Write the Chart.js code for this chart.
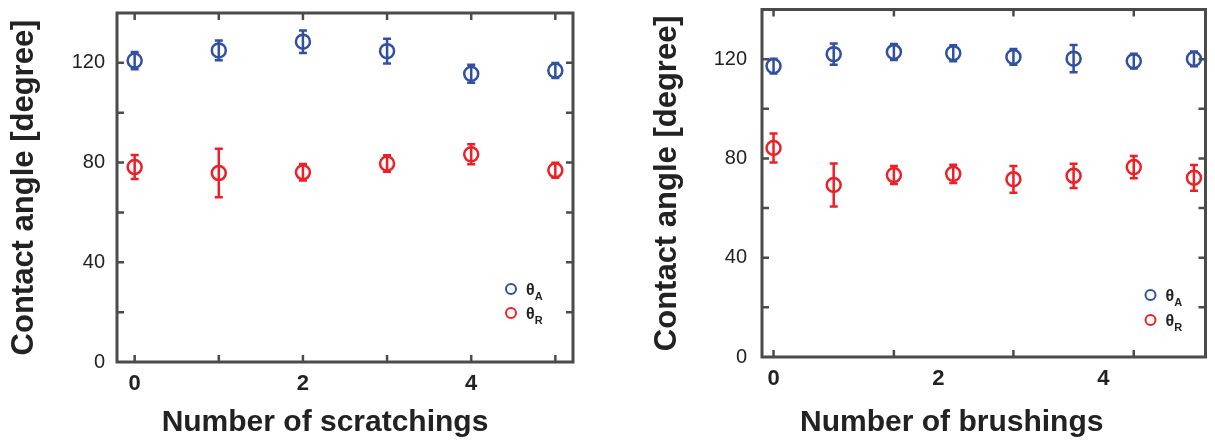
<!DOCTYPE html>
<html>
<head>
<meta charset="utf-8">
<script src="https://cdn.jsdelivr.net/npm/chart.js@4.4.1/dist/chart.umd.min.js"></script>
<style>
  html, body { margin: 0; padding: 0; background: #fff; }
  body { width: 1215px; height: 446px; position: relative; overflow: hidden; }
  .panel { position: absolute; top: 0; width: 600px; height: 446px; }
  #left { left: 0; }
  #right { left: 615px; }
</style>
</head>
<body>
<div class="panel" id="left"><canvas id="chart-scratch" width="600" height="446"></canvas></div>
<div class="panel" id="right"><canvas id="chart-brush" width="600" height="446"></canvas></div>
<script>
// scratching test
const scratchX = [0, 1, 2, 3, 4, 5];
const scratchAdv = [120.9, 125.0, 128.5, 124.7, 115.6, 116.9];
const scratchAdvErr = [3.5, 4.0, 4.5, 5.0, 3.6, 3.0];
const scratchRec = [78.2, 75.8, 76.1, 79.6, 83.3, 76.9];
const scratchRecErr = [4.8, 9.7, 3.3, 3.3, 4.0, 3.0];

// brushing test
const brushX = [0, 0.73, 1.46, 2.18, 2.91, 3.64, 4.37, 5.10];
const brushAdv = [117.2, 122.0, 122.9, 122.4, 120.9, 120.2, 119.2, 120.1];
const brushAdvErr = [3.0, 4.3, 3.2, 3.2, 3.2, 5.5, 3.0, 3.0];
const brushRec = [84.2, 69.3, 73.3, 73.8, 71.6, 73.0, 76.5, 72.2];
const brushRecErr = [5.8, 8.7, 3.6, 3.7, 5.4, 4.9, 4.5, 5.2];

// axes
const xTickLabels = [0, 2, 4];
const yTickLabels = [0, 40, 80, 120];
const yTickMarks = [20, 40, 60, 80, 100, 120];
const scratchTickMarks = scratchX;
const brushTickMarks = brushX.filter((v, i) => i % 2 === 0);

const BLUE = "#3050a2";
const RED = "#ee1f26";
const AXIS = "#4b4b4b";
const TEXT = "#222222";
const FONT = "'Liberation Sans', Arial, sans-serif";

Chart.defaults.font.family = FONT;
Chart.defaults.color = TEXT;

const errorBars = {
  id: "errorBars",
  beforeDatasetsDraw(chart) {
    const { ctx, scales: { x, y } } = chart;
    chart.data.datasets.forEach((ds) => {
      ctx.save();
      ctx.strokeStyle = ds.borderColor;
      ctx.lineWidth = 2.5;
      ctx.beginPath();
      ds.data.forEach((p, i) => {
        const px = x.getPixelForValue(p.x);
        const top = y.getPixelForValue(p.y + ds.errors[i]);
        const bot = y.getPixelForValue(p.y - ds.errors[i]);
        ctx.moveTo(px, top);
        ctx.lineTo(px, bot);
        ctx.moveTo(px - 4, top);
        ctx.lineTo(px + 4, top);
        ctx.moveTo(px - 4, bot);
        ctx.lineTo(px + 4, bot);
      });
      ctx.stroke();
      ctx.restore();
    });
  }
};

const frame = {
  id: "frame",
  afterDraw(chart, args, opts) {
    const { ctx, chartArea: a, scales: { x, y } } = chart;
    ctx.save();
    ctx.strokeStyle = AXIS;
    ctx.lineWidth = 2.5;
    ctx.beginPath();
    opts.xMarks.forEach((v) => {
      const px = x.getPixelForValue(v);
      ctx.moveTo(px, a.bottom);
      ctx.lineTo(px, a.bottom - 7);
      ctx.moveTo(px, a.top);
      ctx.lineTo(px, a.top + 7);
    });
    yTickMarks.forEach((v) => {
      const py = y.getPixelForValue(v);
      ctx.moveTo(a.left, py);
      ctx.lineTo(a.left + 7, py);
      ctx.moveTo(a.right, py);
      ctx.lineTo(a.right - 7, py);
    });
    ctx.stroke();
    ctx.lineWidth = 3;
    ctx.strokeRect(a.left, a.top, a.right - a.left, a.bottom - a.top);

    ctx.fillStyle = TEXT;
    ctx.font = `bold 30px ${FONT}`;
    ctx.textAlign = "center";
    ctx.textBaseline = "alphabetic";
    ctx.fillText(opts.title, (a.left + a.right) / 2 + opts.titleShift, 431);
    ctx.restore();
  }
};

const thetaLegend = {
  id: "thetaLegend",
  afterDraw(chart, args, opts) {
    const { ctx, chartArea: a } = chart;
    ctx.save();
    chart.data.datasets.forEach((ds, i) => {
      const cx = a.right - opts.right;
      const cy = a.bottom - opts.bottom + i * opts.gap;
      ctx.strokeStyle = ds.borderColor;
      ctx.lineWidth = 2;
      ctx.beginPath();
      ctx.arc(cx, cy, 5, 0, Math.PI * 2);
      ctx.stroke();
      ctx.fillStyle = TEXT;
      ctx.textAlign = "left";
      ctx.textBaseline = "alphabetic";
      ctx.font = `bold 16px ${FONT}`;
      ctx.fillText(ds.label, cx + 15, cy + 6);
      const w = ctx.measureText(ds.label).width;
      ctx.font = `bold 11px ${FONT}`;
      ctx.fillText(ds.sub, cx + 15 + w, cy + 11);
    });
    ctx.restore();
  }
};

function series(xs, ys) {
  return xs.map((v, i) => ({ x: v, y: ys[i] }));
}

function criarGrafico(el, cfg) {
  return new Chart(el, {
    type: "scatter",
    data: {
      datasets: [
        {
          label: "θ",
          sub: "A",
          data: series(cfg.xs, cfg.adv),
          errors: cfg.advErr,
          borderColor: BLUE,
          backgroundColor: "rgba(0,0,0,0)",
          pointRadius: 7,
          pointBorderWidth: 2.5,
        },
        {
          label: "θ",
          sub: "R",
          data: series(cfg.xs, cfg.rec),
          errors: cfg.recErr,
          borderColor: RED,
          backgroundColor: "rgba(0,0,0,0)",
          pointRadius: 7,
          pointBorderWidth: 2.5,
        }
      ]
    },
    options: {
      responsive: false,
      animation: false,
      layout: {
        padding: { left: 0, top: cfg.top, right: cfg.right, bottom: 0 }
      },
      scales: {
        x: {
          type: "linear",
          min: cfg.xMin,
          max: cfg.xMax,
          grid: { display: false, drawTicks: false },
          border: { display: false },
          afterBuildTicks: (scale) => {
            scale.ticks = xTickLabels.map((v) => ({ value: v }));
          },
          afterFit: (scale) => {
            scale.height = cfg.xHeight;
            scale.paddingLeft = 0;
            scale.paddingRight = 0;
          },
          ticks: {
            padding: 9,
            font: { size: 22, weight: "bold" },
            color: TEXT,
          }
        },
        y: {
          min: 0,
          max: 140,
          grid: { display: false, drawTicks: false },
          border: { display: false },
          afterBuildTicks: (scale) => {
            scale.ticks = yTickLabels.map((v) => ({ value: v }));
          },
          afterFit: (scale) => {
            scale.width = cfg.yWidth;
            scale.paddingTop = 0;
            scale.paddingBottom = 0;
          },
          ticks: {
            padding: cfg.yPad,
            font: { size: 20 },
            color: TEXT,
          },
          title: {
            display: true,
            text: "Contact angle [degree]",
            font: { size: 31, weight: "bold" },
            color: TEXT,
            padding: { top: cfg.titlePad, bottom: 0 }
          }
        }
      },
      plugins: {
        legend: { display: false },
        tooltip: { enabled: false },
        frame: { xMarks: cfg.marks, title: cfg.title, titleShift: cfg.titleShift },
        thetaLegend: cfg.legend
      }
    },
    plugins: [errorBars, frame, thetaLegend]
  });
}

criarGrafico(document.getElementById("chart-scratch"), {
  xs: scratchX, adv: scratchAdv, advErr: scratchAdvErr, rec: scratchRec, recErr: scratchRecErr,
  xMin: -0.21, xMax: 5.21, marks: scratchTickMarks,
  top: 13, right: 27, xHeight: 84, yWidth: 117, yPad: 12, titlePad: 6,
  title: "Number of scratchings", titleShift: -20,
  legend: { right: 62, bottom: 73, gap: 24 }
});

criarGrafico(document.getElementById("chart-brush"), {
  xs: brushX, adv: brushAdv, advErr: brushAdvErr, rec: brushRec, recErr: brushRecErr,
  xMin: -0.14, xMax: 5.24, marks: brushTickMarks,
  top: 7, right: 1.5, xHeight: 89, yWidth: 147, yPad: 15, titlePad: 34,
  title: "Number of brushings", titleShift: -32,
  legend: { right: 55, bottom: 62, gap: 25 }
});
</script>
</body>
</html>
